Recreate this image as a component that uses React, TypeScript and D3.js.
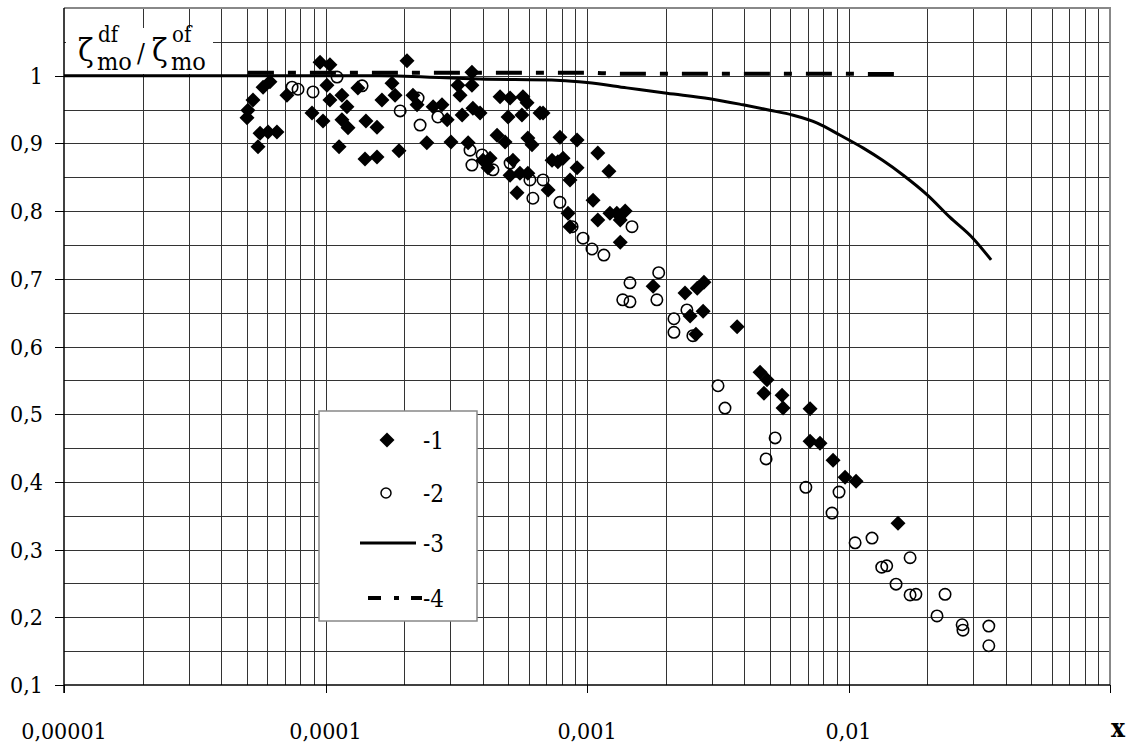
import React, { useEffect, useRef } from "react";
import * as d3 from "d3";

// series 1 (filled diamonds)
const diamondX = [
  5.01e-5, 5.05e-5, 5.28e-5, 5.77e-5, 6.13e-5, 5.52e-5, 5.62e-5, 6.03e-5, 6.52e-5, 7.12e-5,
  9.53e-5, 1.04e-4, 1.013e-4, 1.04e-4, 8.88e-5, 9.78e-5, 1.156e-4, 1.208e-4, 1.156e-4, 1.219e-4,
  1.127e-4, 1.33e-4, 1.428e-4, 1.574e-4, 1.416e-4, 1.574e-4, 1.644e-4, 1.796e-4, 1.845e-4, 2.05e-4,
  1.91e-4, 2.16e-4, 2.24e-4, 2.44e-4, 2.58e-4, 2.79e-4, 2.92e-4, 3.02e-4, 3.21e-4, 3.27e-4,
  3.63e-4, 3.63e-4, 3.33e-4, 3.66e-4, 3.9e-4, 3.51e-4, 4.0e-4, 4.26e-4, 4.18e-4, 4.53e-4,
  4.65e-4, 4.86e-4, 5.08e-4, 5.21e-4, 5.08e-4, 5.4e-4, 5.69e-4, 5.9e-4, 5.64e-4, 4.99e-4,
  5.94e-4, 6.16e-4, 5.54e-4, 5.94e-4, 6.61e-4, 6.79e-4, 7.1e-4, 7.35e-4, 7.74e-4, 7.88e-4,
  8.61e-4, 9.16e-4, 9.16e-4, 8.46e-4, 8.61e-4, 8.1e-4, 1.1e-3, 1.213e-3, 1.055e-3, 1.1e-3,
  1.224e-3, 1.3e-3, 1.4e-3, 1.34e-3, 1.34e-3, 1.79e-3, 2.37e-3, 2.64e-3, 2.8e-3, 2.48e-3,
  2.78e-3, 2.61e-3, 3.75e-3, 4.59e-3, 4.88e-3, 4.75e-3, 5.57e-3, 5.62e-3, 7.13e-3, 7.13e-3,
  7.78e-3, 8.73e-3, 9.7e-3, 1.069e-2, 1.546e-2,
];
const diamondY = [
  0.938, 0.949, 0.964, 0.983, 0.991, 0.895, 0.915, 0.917, 0.917, 0.971,
  1.02, 1.016, 0.986, 0.964, 0.945, 0.933, 0.971, 0.954, 0.935, 0.923,
  0.895, 0.982, 0.933, 0.924, 0.877, 0.88, 0.964, 0.989, 0.971, 1.022,
  0.889, 0.971, 0.957, 0.901, 0.954, 0.957, 0.935, 0.902, 0.986, 0.971,
  1.005, 0.986, 0.942, 0.952, 0.945, 0.901, 0.875, 0.878, 0.864, 0.912,
  0.969, 0.902, 0.967, 0.875, 0.853, 0.827, 0.969, 0.96, 0.942, 0.939,
  0.908, 0.898, 0.856, 0.856, 0.945, 0.945, 0.831, 0.875, 0.873, 0.909,
  0.846, 0.905, 0.864, 0.797, 0.777, 0.878, 0.886, 0.859, 0.816, 0.787,
  0.797, 0.797, 0.8, 0.787, 0.754, 0.689, 0.679, 0.686, 0.695, 0.645,
  0.652, 0.618, 0.629, 0.562, 0.551, 0.531, 0.528, 0.509, 0.508, 0.46,
  0.457, 0.432, 0.407, 0.401, 0.339,
];

// series 2 (open circles)
const circleX = [
  7.45e-5, 7.85e-5, 8.96e-5, 1.107e-4, 1.38e-4, 1.93e-4, 2.26e-4, 2.3e-4, 2.69e-4, 3.57e-4,
  3.97e-4, 3.63e-4, 4.37e-4, 5.08e-4, 6.05e-4, 6.79e-4, 6.21e-4, 7.88e-4, 8.77e-4, 9.66e-4,
  1.045e-3, 1.16e-3, 1.486e-3, 1.46e-3, 1.88e-3, 1.37e-3, 1.46e-3, 1.85e-3, 2.41e-3, 2.15e-3,
  2.15e-3, 2.54e-3, 3.17e-3, 3.37e-3, 5.24e-3, 4.84e-3, 6.87e-3, 9.2e-3, 8.65e-3, 1.06e-2,
  1.23e-2, 1.72e-2, 1.34e-2, 1.4e-2, 1.52e-2, 1.72e-2, 1.81e-2, 2.34e-2, 2.18e-2, 2.72e-2,
  2.74e-2, 3.44e-2, 3.44e-2,
];
const circleY = [
  0.983, 0.98, 0.976, 0.998, 0.985, 0.948, 0.967, 0.927, 0.939, 0.89,
  0.883, 0.868, 0.861, 0.871, 0.846, 0.846, 0.819, 0.813, 0.777, 0.76,
  0.744, 0.735, 0.777, 0.694, 0.709, 0.669, 0.666, 0.669, 0.654, 0.641,
  0.621, 0.616, 0.542, 0.509, 0.465, 0.434, 0.392, 0.385, 0.354, 0.31,
  0.317, 0.288, 0.274, 0.276, 0.249, 0.233, 0.234, 0.234, 0.202, 0.189,
  0.181, 0.187, 0.158,
];

// series 3 (solid curve)
const curve3X = [
  1e-5, 1.61e-4, 3.9e-4, 7.9e-4, 1e-3, 1.42e-3, 2.02e-3, 2.95e-3, 3.95e-3, 5.0e-3,
  6.1e-3, 7.6e-3, 9.3e-3, 1.14e-2, 1.35e-2, 1.62e-2, 2.0e-2, 2.44e-2, 2.99e-2, 3.51e-2,
];
const curve3Y = [
  1.0, 1.0, 0.995, 0.993, 0.99, 0.982, 0.974, 0.966, 0.957, 0.949,
  0.942, 0.93, 0.912, 0.893, 0.875, 0.853, 0.824, 0.791, 0.76, 0.728,
];

// series 4 (dash-dot curve)
const curve4X = [5.05e-5, 1e-4, 1e-3, 1.3e-3, 5e-3, 1.51e-2];
const curve4Y = [1.0045, 1.0045, 1.0045, 1.003, 1.003, 1.0025];

const yTicks = [0.1, 0.2, 0.3, 0.4, 0.5, 0.6, 0.7, 0.8, 0.9, 1];
const yTickLabels = ["0,1", "0,2", "0,3", "0,4", "0,5", "0,6", "0,7", "0,8", "0,9", "1"];
const xTicks = [1e-5, 1e-4, 1e-3, 1e-2];
const xTickLabels = ["0,00001", "0,0001", "0,001", "0,01"];
const legendLabels = ["-1", "-2", "-3", "-4"];

const FONT = "DejaVu Serif Condensed, Liberation Serif, Times New Roman, serif";

const Chart = () => {
  const ref = useRef(null);

  function draw() {
    const svg = d3.select(ref.current);
    svg.selectAll("*").remove();
    const width = 1127;
    const height = 747;
    const left = 64;
    const right = 1110;
    const top = 8;
    const bottom = 685;

    svg.attr("width", width).attr("height", height).attr("font-family", FONT);

    const x = d3.scaleLog().domain([1e-5, 0.1]).range([left, right]);
    const y = d3.scaleLinear().domain([0.1, 1.1]).range([bottom, top]);
    const px = (v) => Math.round(v) + 0.5;

    svg.append("rect").attr("width", width).attr("height", height).attr("fill", "#fff");

    // grid
    const grid = svg.append("g").attr("stroke", "#333").attr("stroke-width", 1).attr("shape-rendering", "crispEdges");
    const vLines = [];
    [1e-5, 1e-4, 1e-3, 1e-2].forEach((d) => {
      for (let k = 1; k <= 9; k++) vLines.push(k * d);
    });
    grid
      .selectAll("line.v")
      .data(vLines.slice(1))
      .join("line")
      .attr("x1", (d) => px(x(d)))
      .attr("x2", (d) => px(x(d)))
      .attr("y1", top)
      .attr("y2", bottom);
    grid
      .selectAll("line.h")
      .data(d3.range(0.15, 1.1, 0.05))
      .join("line")
      .attr("x1", left)
      .attr("x2", right)
      .attr("y1", (d) => px(y(d)))
      .attr("y2", (d) => px(y(d)));

    // frame: top/right grey, left/bottom black
    svg
      .append("path")
      .attr("d", `M${left},${top}H${right}V${bottom}`)
      .attr("fill", "none")
      .attr("stroke", "#888")
      .attr("stroke-width", 2);

    // y axis
    const yAxis = svg.append("g");
    yAxis
      .append("line")
      .attr("x1", left)
      .attr("x2", left)
      .attr("y1", top)
      .attr("y2", bottom + 8)
      .attr("stroke", "#000")
      .attr("stroke-width", 1.5);
    yAxis
      .selectAll("line.t")
      .data(yTicks)
      .join("line")
      .attr("x1", left - 9)
      .attr("x2", left)
      .attr("y1", (d) => px(y(d)))
      .attr("y2", (d) => px(y(d)))
      .attr("stroke", "#000");
    yAxis
      .selectAll("text")
      .data(yTicks)
      .join("text")
      .attr("x", left - 21)
      .attr("y", (d) => y(d) + 8)
      .attr("text-anchor", "end")
      .attr("font-size", 23)
      .text((d, i) => yTickLabels[i]);

    // x axis
    const xAxis = svg.append("g");
    xAxis
      .append("line")
      .attr("x1", left)
      .attr("x2", right)
      .attr("y1", bottom)
      .attr("y2", bottom)
      .attr("stroke", "#000")
      .attr("stroke-width", 1.5);
    xAxis
      .selectAll("line.t")
      .data([...xTicks, 0.1])
      .join("line")
      .attr("x1", (d) => px(x(d)))
      .attr("x2", (d) => px(x(d)))
      .attr("y1", bottom)
      .attr("y2", bottom + 8)
      .attr("stroke", "#000");
    xAxis
      .selectAll("text")
      .data(xTicks)
      .join("text")
      .attr("x", (d) => x(d))
      .attr("y", 739)
      .attr("text-anchor", "middle")
      .attr("font-size", 23)
      .text((d, i) => xTickLabels[i]);
    svg
      .append("text")
      .attr("x", 1118)
      .attr("y", 737)
      .attr("text-anchor", "middle")
      .attr("font-size", 26)
      .attr("font-weight", "bold")
      .text("x");

    // y title
    const title = svg.append("g");
    title.append("rect").attr("x", 66).attr("y", 28).attr("width", 147).attr("height", 46).attr("fill", "#fff");
    title.append("text").attr("x", 78).attr("y", 61).attr("font-size", 32).text("ζ");
    title.append("text").attr("x", 98).attr("y", 42).attr("font-size", 22).text("df");
    title.append("text").attr("x", 97).attr("y", 70).attr("font-size", 25).text("mo");
    title.append("text").attr("x", 137).attr("y", 62).attr("font-size", 26).text("/");
    title.append("text").attr("x", 152).attr("y", 61).attr("font-size", 32).text("ζ");
    title.append("text").attr("x", 172).attr("y", 42).attr("font-size", 22).text("of");
    title.append("text").attr("x", 171).attr("y", 70).attr("font-size", 25).text("mo");

    // lines
    const line = d3
      .line()
      .x((d) => x(d[0]))
      .y((d) => y(d[1]))
      .curve(d3.curveMonotoneX);
    svg
      .append("path")
      .datum(curve3X.map((v, i) => [v, curve3Y[i]]))
      .attr("d", line)
      .attr("fill", "none")
      .attr("stroke", "#000")
      .attr("stroke-width", 3);
    svg
      .append("path")
      .datum(curve4X.map((v, i) => [v, curve4Y[i]]))
      .attr("d", line)
      .attr("fill", "none")
      .attr("stroke", "#000")
      .attr("stroke-width", 4)
      .attr("stroke-dasharray", "26 14 8 14");

    // circles
    svg
      .append("g")
      .selectAll("circle")
      .data(circleX.map((v, i) => [v, circleY[i]]))
      .join("circle")
      .attr("cx", (d) => x(d[0]))
      .attr("cy", (d) => y(d[1]))
      .attr("r", 5.7)
      .attr("fill", "none")
      .attr("stroke", "#000")
      .attr("stroke-width", 1.6);

    // diamonds
    const diamond = (s) => `M0,${-s}L${s},0L0,${s}L${-s},0Z`;
    svg
      .append("g")
      .selectAll("path")
      .data(diamondX.map((v, i) => [v, diamondY[i]]))
      .join("path")
      .attr("transform", (d) => `translate(${x(d[0])},${y(d[1])})`)
      .attr("d", diamond(7.5))
      .attr("fill", "#000");

    // legend
    const lg = svg.append("g");
    lg.append("rect")
      .attr("x", 319)
      .attr("y", 411)
      .attr("width", 158)
      .attr("height", 210)
      .attr("fill", "#fff")
      .attr("stroke", "#888")
      .attr("stroke-width", 1.5);
    const rows = [440, 493, 543, 598];
    lg.append("path").attr("transform", `translate(387,${rows[0]})`).attr("d", diamond(7.5)).attr("fill", "#000");
    lg.append("circle").attr("cx", 386).attr("cy", rows[1]).attr("r", 5).attr("fill", "none").attr("stroke", "#000").attr("stroke-width", 1.5);
    lg.append("line").attr("x1", 360).attr("x2", 416).attr("y1", rows[2]).attr("y2", rows[2]).attr("stroke", "#000").attr("stroke-width", 3);
    lg.append("line")
      .attr("x1", 368)
      .attr("x2", 422)
      .attr("y1", rows[3])
      .attr("y2", rows[3])
      .attr("stroke", "#000")
      .attr("stroke-width", 4)
      .attr("stroke-dasharray", "13 13 5 12");
    lg.selectAll("text")
      .data(legendLabels)
      .join("text")
      .attr("x", 423)
      .attr("y", (d, i) => rows[i] + 9)
      .attr("font-size", 24)
      .text((d) => d);
  }

  useEffect(() => {
    draw();
  }, []);

  return <svg ref={ref} style={{ position: "absolute", left: 0, top: 0 }} />;
};

export default function App() {
  return <Chart />;
}
